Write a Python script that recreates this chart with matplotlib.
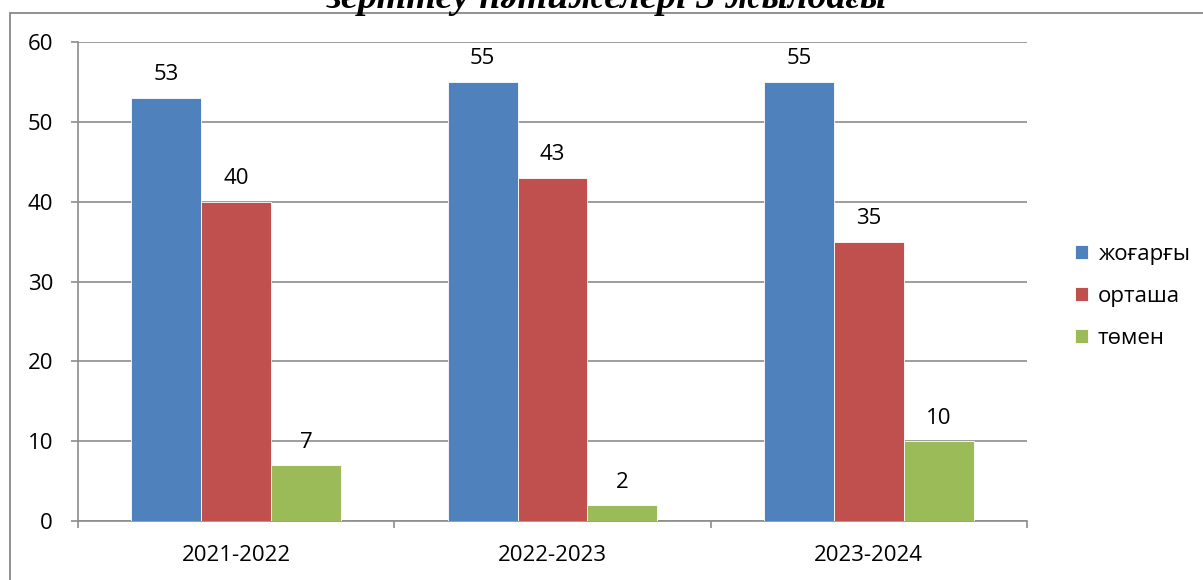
import matplotlib
matplotlib.use("Agg")
import matplotlib.pyplot as plt
from matplotlib.patches import Rectangle
import numpy as np

years = ["2021-2022", "2022-2023", "2023-2024"]
series_names = ["жоғарғы", "орташа", "төмен"]
high = [53, 55, 55]
mid = [40, 43, 35]
low = [7, 2, 10]
title = "зерттеу нәтижелері 3 жылдағы"

COLORS = ["#4F81BD", "#C0504D", "#9BBB59"]
GRID = "#8c8c8c"
FS = 16
plt.rcParams["font.family"] = ["Open Sans", "DejaVu Sans"]

fig = plt.figure(figsize=(12.03, 5.8), dpi=100)
W, H = 1203, 580
ax = fig.add_axes([78 / W, 1 - 521 / H, (1027 - 78) / W, (521 - 42) / H])

# outer chart border
fig.patches.append(Rectangle((9.5 / W, -0.05), 1.2, 1 - 12.5 / H + 0.05, transform=fig.transFigure,
                             fill=False, edgecolor="#888888", lw=1.3))

x = np.arange(len(years))
bw = 0.221
for k, (vals, name) in enumerate(zip([high, mid, low], series_names)):
    pos = x + (k - 1) * bw
    ax.bar(pos, vals, width=bw, color=COLORS[k], edgecolor="white", lw=0.6, label=name, zorder=3)
    for p, v in zip(pos, vals):
        ax.annotate(str(v), (p, v), xytext=(0, 9), textcoords="offset points",
                    ha="center", va="bottom", fontsize=FS)

ax.set_xlim(-0.5, len(years) - 0.5)
ax.set_ylim(0, 60)
ax.set_yticks(range(0, 61, 10))
ax.yaxis.grid(True, color=GRID, lw=1.2, zorder=0)
ax.set_axisbelow(True)
ax.set_xticks(x)
ax.set_xticklabels(years, fontsize=FS)
ax.set_xticks(np.arange(-0.5, len(years), 1), minor=True)
ax.tick_params(axis="x", which="major", length=0, pad=17)
ax.tick_params(axis="x", which="minor", length=5, color=GRID, width=1.2)
ax.tick_params(axis="y", length=5, color=GRID, width=1.2, labelsize=FS, pad=13)
for s in ["top", "right"]:
    ax.spines[s].set_visible(False)
for s in ["left", "bottom"]:
    ax.spines[s].set_color(GRID)
    ax.spines[s].set_linewidth(1.2)

ax.legend(loc="center left", bbox_to_anchor=(1.03, 0.469), frameon=False, fontsize=FS,
          handlelength=0.55, handleheight=0.55, handletextpad=0.45, labelspacing=0.95)

# title is cut at the top edge, as in the source
fig.text(607 / W, 1 - 8.5 / H, title, ha="center", va="baseline", fontsize=27.5,
         family="Liberation Serif", weight="bold", style="italic")

fig.savefig("out.png", dpi=100)
